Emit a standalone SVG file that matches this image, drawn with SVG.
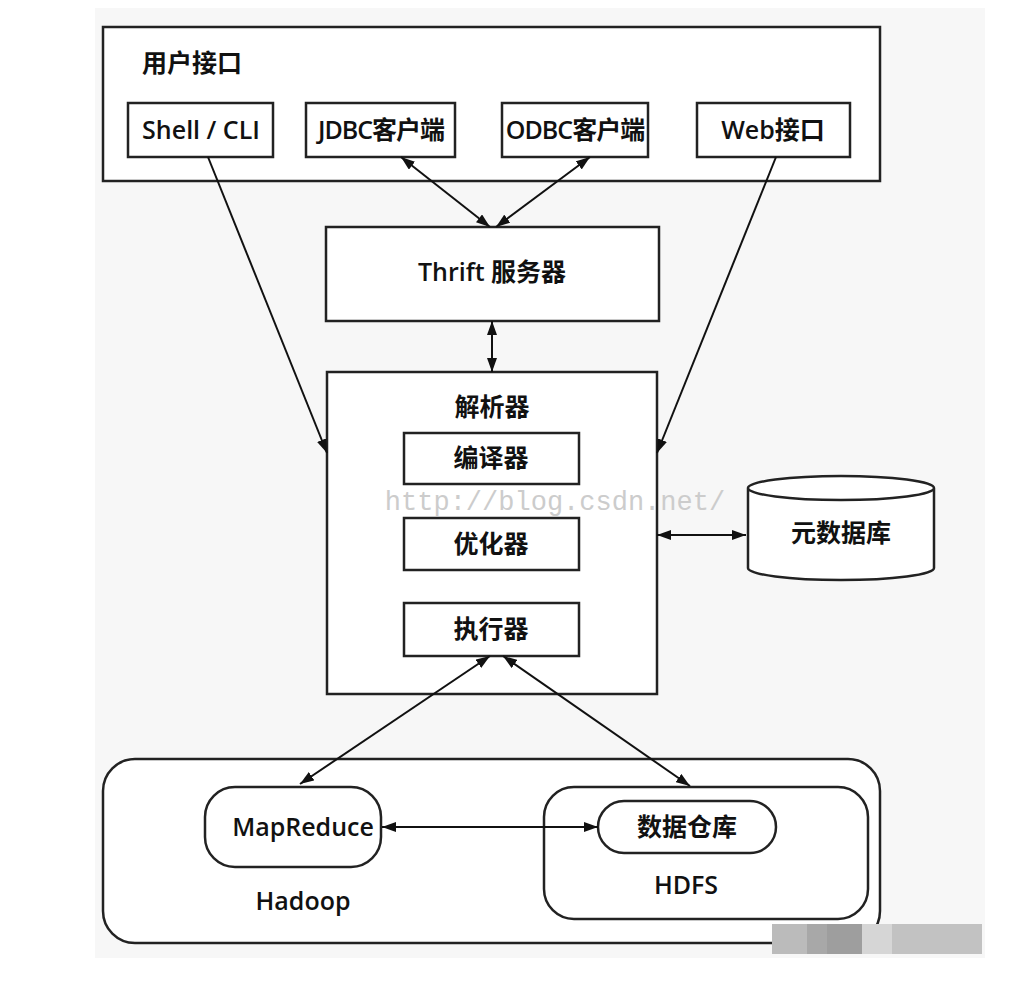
<svg xmlns="http://www.w3.org/2000/svg" width="1028" height="996" viewBox="0 0 1028 996">
<style>
.b{fill:#fff;stroke:#222;stroke-width:2.5}
.t{font-family:"Open Sans","Noto Sans CJK SC",sans-serif;font-size:25px;font-weight:600;fill:#111;text-anchor:middle}
.c{stroke:#111;stroke-width:2;fill:none;marker-end:url(#a)}
.d{stroke:#111;stroke-width:2;fill:none;marker-start:url(#s);marker-end:url(#a)}
</style>
<defs>
<marker id="a" viewBox="0 0 14 10" refX="14" refY="5" markerWidth="14" markerHeight="10" orient="auto" markerUnits="userSpaceOnUse"><path d="M0,0 L14,5 L0,10 z" fill="#111"/></marker>
<marker id="s" viewBox="0 0 14 10" refX="0" refY="5" markerWidth="14" markerHeight="10" orient="auto" markerUnits="userSpaceOnUse"><path d="M14,0 L0,5 L14,10 z" fill="#111"/></marker>
</defs>
<rect width="1028" height="996" fill="#fff"/>
<rect x="95" y="8" width="890" height="950" fill="#f7f7f7"/>
<g id="user"><rect class="b" x="103" y="27" width="777" height="154"/><text class="t" x="192" y="72">用户接口</text></g>
<g id="shell"><rect class="b" x="128" y="103" width="145" height="54"/><text class="t" x="201" y="139">Shell / CLI</text></g>
<g id="jdbc"><rect class="b" x="306" y="103" width="149" height="54"/><text class="t" x="381" y="139" letter-spacing="-1">JDBC客户端</text></g>
<g id="odbc"><rect class="b" x="502" y="103" width="146" height="54"/><text class="t" x="575" y="139" letter-spacing="-1">ODBC客户端</text></g>
<g id="web"><rect class="b" x="697" y="103" width="153" height="54"/><text class="t" x="773" y="139">Web接口</text></g>
<g id="thrift"><rect class="b" x="326" y="227" width="333" height="94"/><text class="t" x="492" y="281">Thrift  服务器</text></g>
<g id="parser"><rect class="b" x="327" y="372" width="330" height="322"/><text class="t" x="492" y="416">解析器</text></g>
<text x="555" y="510" font-family="Liberation Mono,monospace" font-size="27" fill="#ccc" text-anchor="middle">http://blog.csdn.net/</text>
<g id="compiler"><rect class="b" x="404" y="433" width="175" height="51"/><text class="t" x="491" y="467">编译器</text></g>
<g id="optimizer"><rect class="b" x="404" y="518" width="175" height="52"/><text class="t" x="491" y="553">优化器</text></g>
<g id="executor"><rect class="b" x="404" y="603" width="175" height="53"/><text class="t" x="491" y="638">执行器</text></g>
<g id="metastore"><path class="b" d="M748,488 V568 A93,12 0 0 0 934,568 V488 A93,12 0 0 0 748,488 A93,12 0 0 0 934,488"/><text class="t" x="841" y="542">元数据库</text></g>
<g id="hadoop"><rect class="b" x="103" y="759" width="777" height="184" rx="32"/><text class="t" x="303" y="910">Hadoop</text></g>
<g id="mapreduce"><rect class="b" x="205" y="787" width="176" height="80" rx="30"/><text class="t" x="303" y="836">MapReduce</text></g>
<g id="hdfs"><rect class="b" x="544" y="787" width="324" height="132" rx="30"/><text class="t" x="686" y="894">HDFS</text></g>
<g id="warehouse"><rect class="b" x="598" y="801" width="178" height="52" rx="26"/><text class="t" x="687" y="836">数据仓库</text></g>
<g id="connectors">
<path class="c" d="M208,157 L327,453"/>
<path class="c" d="M776,157 L657,453"/>
<path class="d" d="M401,157 L490,227"/>
<path class="d" d="M590,157 L496,227"/>
<path class="d" d="M492,321 L492,372"/>
<path class="d" d="M657,535 L746,535"/>
<path class="d" d="M490,656 L300,784"/>
<path class="d" d="M503,656 L690,786"/>
<path class="d" d="M382,827 L598,827"/>
</g>
<g id="blur"><rect x="772" y="924" width="35" height="30" fill="#bbb"/><rect x="807" y="924" width="20" height="30" fill="#a8a8a8"/><rect x="827" y="924" width="35" height="30" fill="#9e9e9e"/><rect x="862" y="924" width="30" height="30" fill="#d6d6d6"/><rect x="892" y="924" width="90" height="30" fill="#c2c2c2"/></g>
</svg>
